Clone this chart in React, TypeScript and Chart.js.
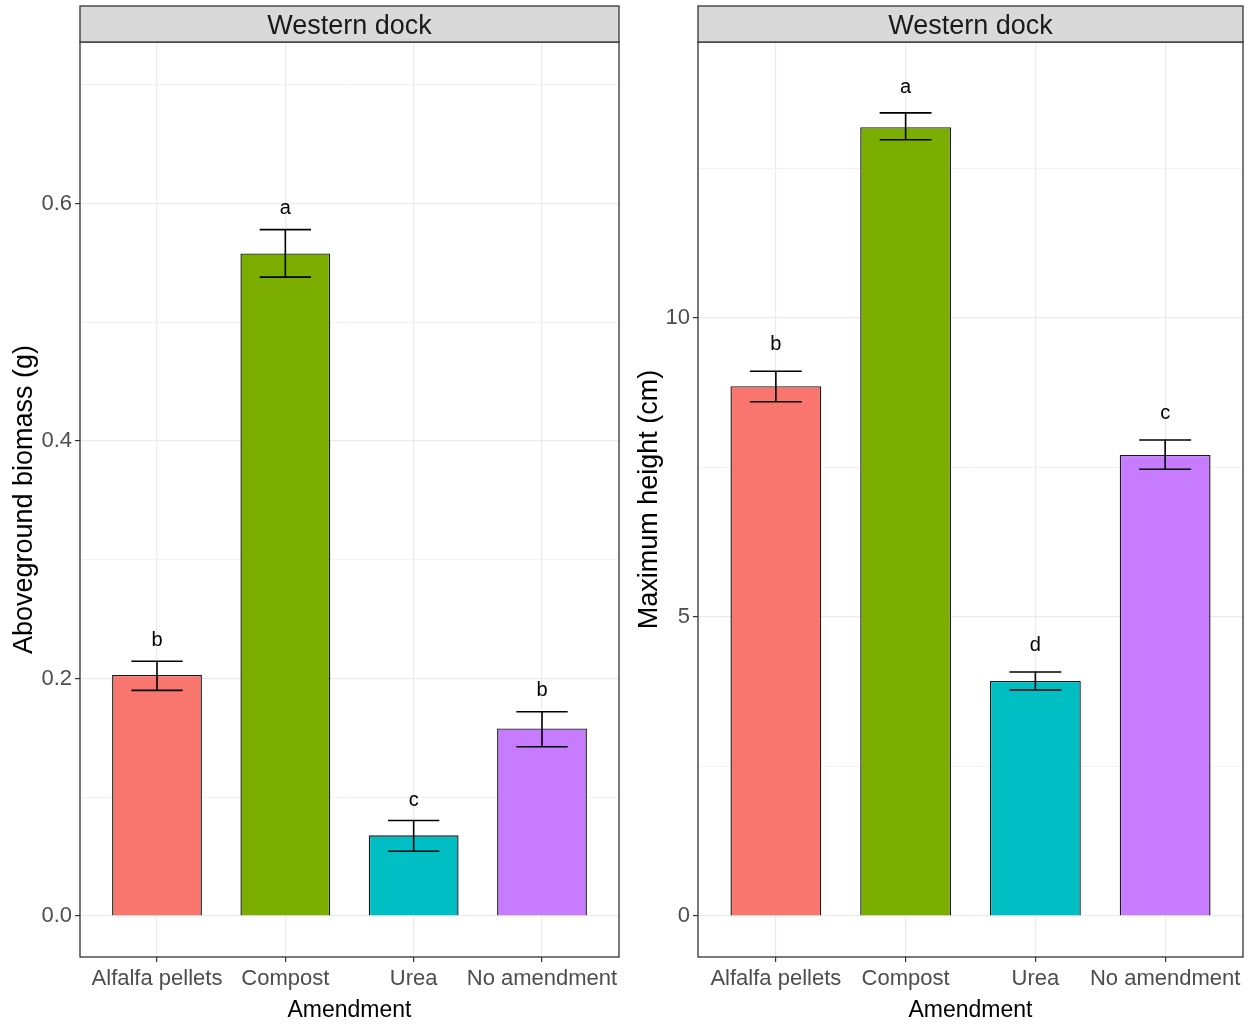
import React, { useEffect, useRef } from "react";
import { Chart, registerables } from "chart.js";

Chart.register(...registerables);

const FONT = '"Liberation Sans", Arial, Helvetica, sans-serif';

// ---- data ----
const categories = ["Alfalfa pellets", "Compost", "Urea", "No amendment"];
const barColors = ["#F8766D", "#7CAE00", "#00BFC4", "#C77CFF"];
const stripLabel = "Western dock";
const xTitle = "Amendment";

const biomassMean = [0.203, 0.558, 0.068, 0.158];
const biomassLow = [0.19, 0.538, 0.0545, 0.1426];
const biomassHigh = [0.2146, 0.578, 0.0805, 0.172];
const biomassLetters = ["b", "a", "c", "b"];
const biomassLetterY = [0.232, 0.596, 0.097, 0.19];
const biomassGridTicks = [0, 0.1, 0.2, 0.3, 0.4, 0.5, 0.6, 0.7];
const biomassMajorTicks = [0, 0.2, 0.4, 0.6];
const biomassTickLabels = ["0.0", "0.2", "0.4", "0.6"];
const biomassTitle = "Aboveground biomass (g)";

const heightMean = [8.86, 13.19, 3.93, 7.71];
const heightLow = [8.6, 12.98, 3.78, 7.47];
const heightHigh = [9.11, 13.43, 4.08, 7.96];
const heightLetters = ["b", "a", "d", "c"];
const heightLetterY = [9.55, 13.85, 4.53, 8.41];
const heightGridTicks = [0, 2.5, 5, 7.5, 10, 12.5];
const heightMajorTicks = [0, 5, 10];
const heightTickLabels = ["0", "5", "10"];
const heightTitle = "Maximum height (cm)";

type PanelCfg = {
  canvasWidth: number;
  canvasHeight: number;
  plotLeft: number;
  plotRight: number;
  plotTop: number;
  plotBottom: number;
  yMin: number;
  yMax: number;
  gridTicks: number[];
  majorTicks: number[];
  tickLabels: string[];
  means: number[];
  lows: number[];
  highs: number[];
  letters: string[];
  letterY: number[];
  yTitle: string;
  yTitleX: number;
};

const isMajor = (cfg: PanelCfg, v: number) =>
  cfg.majorTicks.findIndex((m) => Math.abs(m - v) < 1e-9);

function makeChart(canvas: HTMLCanvasElement, cfg: PanelCfg) {
  const decorations = {
    id: "decorations",
    afterDatasetsDraw(chart: any) {
      const ctx = chart.ctx as CanvasRenderingContext2D;
      const xs = chart.scales.x;
      const ys = chart.scales.y;
      ctx.save();
      // error bars
      ctx.strokeStyle = "#000000";
      ctx.lineWidth = 1.6;
      cfg.means.forEach((_, i) => {
        const xc = xs.getPixelForValue(i + 1);
        const xl = xs.getPixelForValue(i + 1 - 0.2);
        const xr = xs.getPixelForValue(i + 1 + 0.2);
        const yl = ys.getPixelForValue(cfg.lows[i]);
        const yh = ys.getPixelForValue(cfg.highs[i]);
        ctx.beginPath();
        ctx.moveTo(xc, yl);
        ctx.lineTo(xc, yh);
        ctx.moveTo(xl, yl);
        ctx.lineTo(xr, yl);
        ctx.moveTo(xl, yh);
        ctx.lineTo(xr, yh);
        ctx.stroke();
      });
      // letters
      ctx.fillStyle = "#000000";
      ctx.font = `20px ${FONT}`;
      ctx.textAlign = "center";
      ctx.textBaseline = "middle";
      cfg.letters.forEach((t, i) => {
        ctx.fillText(t, xs.getPixelForValue(i + 1), ys.getPixelForValue(cfg.letterY[i]));
      });
      ctx.restore();
    },
    afterDraw(chart: any) {
      const ctx = chart.ctx as CanvasRenderingContext2D;
      const a = chart.chartArea;
      ctx.save();
      // panel border
      ctx.strokeStyle = "#333333";
      ctx.lineWidth = 1.3;
      ctx.strokeRect(a.left, a.top, a.right - a.left, a.bottom - a.top);
      // strip
      const stripTop = 6;
      ctx.fillStyle = "#D9D9D9";
      ctx.fillRect(a.left, stripTop, a.right - a.left, a.top - stripTop);
      ctx.strokeRect(a.left, stripTop, a.right - a.left, a.top - stripTop);
      ctx.fillStyle = "#1A1A1A";
      ctx.font = `27px ${FONT}`;
      ctx.textAlign = "center";
      ctx.textBaseline = "middle";
      ctx.fillText(stripLabel, (a.left + a.right) / 2, (stripTop + a.top) / 2 + 3);
      // x title
      ctx.fillStyle = "#000000";
      ctx.font = `23px ${FONT}`;
      ctx.fillText(xTitle, (a.left + a.right) / 2, 1011);
      // y title
      ctx.font = `27px ${FONT}`;
      ctx.translate(cfg.yTitleX, (a.top + a.bottom) / 2);
      ctx.rotate(-Math.PI / 2);
      ctx.fillText(cfg.yTitle, 0, 0);
      ctx.restore();
    },
  };

  return new Chart(canvas, {
    type: "bar",
    data: {
      datasets: [
        {
          data: cfg.means.map((v, i) => ({ x: i + 1, y: v })),
          backgroundColor: barColors,
          borderColor: "#1A1A1A",
          borderWidth: 1.4,
          barPercentage: 0.7,
          categoryPercentage: 1.0,
        },
      ],
    },
    options: {
      animation: false,
      responsive: false,
      devicePixelRatio: 1,
      layout: {
        padding: {
          left: 0,
          right: cfg.canvasWidth - cfg.plotRight,
          top: cfg.plotTop,
          bottom: 0,
        },
      },
      plugins: {
        legend: { display: false },
        tooltip: { enabled: false },
        title: { display: false },
      },
      scales: {
        x: {
          type: "linear",
          min: 0.4,
          max: 4.6,
          offset: false,
          afterBuildTicks: (axis: any) => {
            axis.ticks = categories.map((_, i) => ({ value: i + 1 }));
          },
          afterFit: (axis: any) => {
            axis.height = cfg.canvasHeight - cfg.plotBottom;
          },
          border: { display: false },
          grid: {
            offset: false,
            color: "#EBEBEB",
            lineWidth: 1.2,
            tickColor: "#333333",
            tickLength: 5,
            tickWidth: 1.2,
          },
          ticks: {
            autoSkip: false,
            maxRotation: 0,
            minRotation: 0,
            padding: 4,
            color: "#4D4D4D",
            font: { family: FONT, size: 22 },
            callback: (v: any) => categories[Math.round(Number(v)) - 1] ?? "",
          },
        },
        y: {
          type: "linear",
          min: cfg.yMin,
          max: cfg.yMax,
          afterBuildTicks: (axis: any) => {
            axis.ticks = cfg.gridTicks.map((v) => ({ value: v }));
          },
          afterFit: (axis: any) => {
            axis.width = cfg.plotLeft;
          },
          border: { display: false },
          grid: {
            color: (c: any) => (isMajor(cfg, c.tick?.value) >= 0 ? "#EBEBEB" : "#F2F2F2"),
            lineWidth: (c: any) => (isMajor(cfg, c.tick?.value) >= 0 ? 1.2 : 1),
            tickColor: (c: any) => (isMajor(cfg, c.tick?.value) >= 0 ? "#333333" : "rgba(0,0,0,0)"),
            tickLength: 5,
            tickWidth: 1.2,
          },
          ticks: {
            padding: 3,
            color: "#4D4D4D",
            font: { family: FONT, size: 22 },
            callback: (v: any) => {
              const k = isMajor(cfg, Number(v));
              return k >= 0 ? cfg.tickLabels[k] : "";
            },
          },
        },
      },
    },
    plugins: [decorations],
  } as any);
}

function Panel({ cfg, left }: { cfg: PanelCfg; left: number }) {
  const ref = useRef<HTMLCanvasElement | null>(null);
  useEffect(() => {
    if (!ref.current) return;
    const chart = makeChart(ref.current, cfg);
    return () => chart.destroy();
  }, []);
  return (
    <canvas
      ref={ref}
      width={cfg.canvasWidth}
      height={cfg.canvasHeight}
      style={{ position: "absolute", left, top: 0, width: cfg.canvasWidth, height: cfg.canvasHeight }}
    />
  );
}

const leftCfg: PanelCfg = {
  canvasWidth: 630,
  canvasHeight: 1024,
  plotLeft: 80,
  plotRight: 619,
  plotTop: 42,
  plotBottom: 957,
  yMin: -0.0345,
  yMax: 0.736,
  gridTicks: biomassGridTicks,
  majorTicks: biomassMajorTicks,
  tickLabels: biomassTickLabels,
  means: biomassMean,
  lows: biomassLow,
  highs: biomassHigh,
  letters: biomassLetters,
  letterY: biomassLetterY,
  yTitle: biomassTitle,
  yTitleX: 25,
};

const rightCfg: PanelCfg = {
  canvasWidth: 620,
  canvasHeight: 1024,
  plotLeft: 68,
  plotRight: 613,
  plotTop: 42,
  plotBottom: 957,
  yMin: -0.686,
  yMax: 14.615,
  gridTicks: heightGridTicks,
  majorTicks: heightMajorTicks,
  tickLabels: heightTickLabels,
  means: heightMean,
  lows: heightLow,
  highs: heightHigh,
  letters: heightLetters,
  letterY: heightLetterY,
  yTitle: heightTitle,
  yTitleX: 20,
};

export default function App() {
  return (
    <div
      style={{
        position: "absolute",
        left: 0,
        top: 0,
        width: 1250,
        height: 1024,
        background: "#FFFFFF",
        overflow: "hidden",
      }}
    >
      <Panel cfg={leftCfg} left={0} />
      <Panel cfg={rightCfg} left={630} />
    </div>
  );
}
